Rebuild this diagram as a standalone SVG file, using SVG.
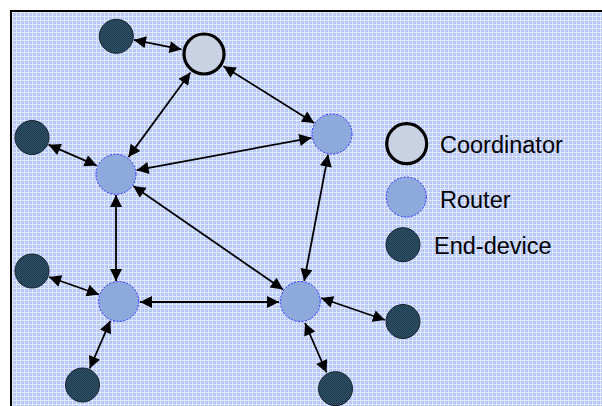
<svg xmlns="http://www.w3.org/2000/svg" width="602" height="406" viewBox="0 0 602 406">
  <defs>
    <pattern id="grid" width="4" height="4" patternUnits="userSpaceOnUse">
      <rect width="4" height="4" fill="#b4c6f7"/>
      <rect x="0" y="0" width="4" height="1" fill="#e2e9fd"/>
      <rect x="0" y="0" width="1" height="4" fill="#e2e9fd"/>
      <rect x="2" y="2" width="1" height="1" fill="#cbd7fa"/>
    </pattern>
    <pattern id="check" width="2" height="2" patternUnits="userSpaceOnUse">
      <rect width="2" height="2" fill="#2f5469"/>
      <rect width="1" height="1" fill="#1e394b"/>
      <rect x="1" y="1" width="1" height="1" fill="#1e394b"/>
    </pattern>
    <marker id="ah" viewBox="0 0 10 10" refX="10" refY="5" markerWidth="15" markerHeight="12" markerUnits="userSpaceOnUse" orient="auto-start-reverse">
      <path d="M0,0 L10,5 L0,10 z" fill="#000"/>
    </marker>
  </defs>
  <style>
    .edge { stroke: #000; stroke-width: 1.8; fill: none; marker-start: url(#ah); marker-end: url(#ah); }
    .coord { fill: #c8d2e2; stroke: #000; stroke-width: 3.2; }
    .router { fill: #8eaadc; stroke: #2a2aff; stroke-width: 1; stroke-dasharray: 2 1.5; }
    .end { fill: url(#check); stroke: #14222e; stroke-width: 1; }
    .lbl { font-family: "Liberation Sans", Arial, sans-serif; font-size: 23.5px; fill: #000; }
  </style>
  <rect x="11" y="11" width="620" height="420" fill="url(#grid)" stroke="#000" stroke-width="2"/>

  <g id="connectors">
    <line class="edge" x1="133.9" y1="39.9" x2="181.5" y2="49.4"/>
    <line class="edge" x1="190.4" y1="72.5" x2="128.4" y2="157.1"/>
    <line class="edge" x1="223.5" y1="66.2" x2="314.2" y2="122.9"/>
    <line class="edge" x1="311.4" y1="137.8" x2="136.6" y2="170.2"/>
    <line class="edge" x1="96.7" y1="165.6" x2="48.5" y2="144.7"/>
    <line class="edge" x1="133.3" y1="185.9" x2="283" y2="289.5"/>
    <line class="edge" x1="116" y1="195" x2="116" y2="281"/>
    <line class="edge" x1="328.1" y1="154.6" x2="304.2" y2="280.9"/>
    <line class="edge" x1="140" y1="302" x2="279" y2="302"/>
    <line class="edge" x1="98.9" y1="294.5" x2="49" y2="277"/>
    <line class="edge" x1="110.3" y1="320.8" x2="89.7" y2="368.5"/>
    <line class="edge" x1="321" y1="298" x2="385" y2="320"/>
    <line class="edge" x1="305" y1="323" x2="326.5" y2="372.5"/>
  </g>

  <g id="coordinator"><circle class="coord" cx="204" cy="54" r="20"/></g>
  <g id="ed-top"><circle class="end" cx="116.3" cy="36.3" r="17"/></g>
  <g id="ed-left"><circle class="end" cx="32" cy="137.5" r="17"/></g>
  <g id="router-left"><circle class="router" cx="116" cy="174.3" r="20"/></g>
  <g id="router-right"><circle class="router" cx="332" cy="134" r="20"/></g>
  <g id="router-bottom-left"><circle class="router" cx="118.7" cy="301.5" r="20"/></g>
  <g id="router-bottom-right"><circle class="router" cx="300.3" cy="301.5" r="20"/></g>
  <g id="ed-left-bottom"><circle class="end" cx="32" cy="271" r="17"/></g>
  <g id="ed-bottom"><circle class="end" cx="82.5" cy="385" r="17"/></g>
  <g id="ed-right"><circle class="end" cx="403" cy="321.5" r="17"/></g>
  <g id="ed-bottom-right"><circle class="end" cx="335.5" cy="388.7" r="17"/></g>

  <g id="legend-coordinator">
    <circle class="coord" cx="406.7" cy="143.7" r="20"/>
    <text class="lbl" x="440" y="153">Coordinator</text>
  </g>
  <g id="legend-router">
    <circle class="router" cx="406.3" cy="197" r="20"/>
    <text class="lbl" x="440" y="208">Router</text>
  </g>
  <g id="legend-end-device">
    <circle class="end" cx="403" cy="244.7" r="17"/>
    <text class="lbl" x="434" y="254">End-device</text>
  </g>
</svg>
